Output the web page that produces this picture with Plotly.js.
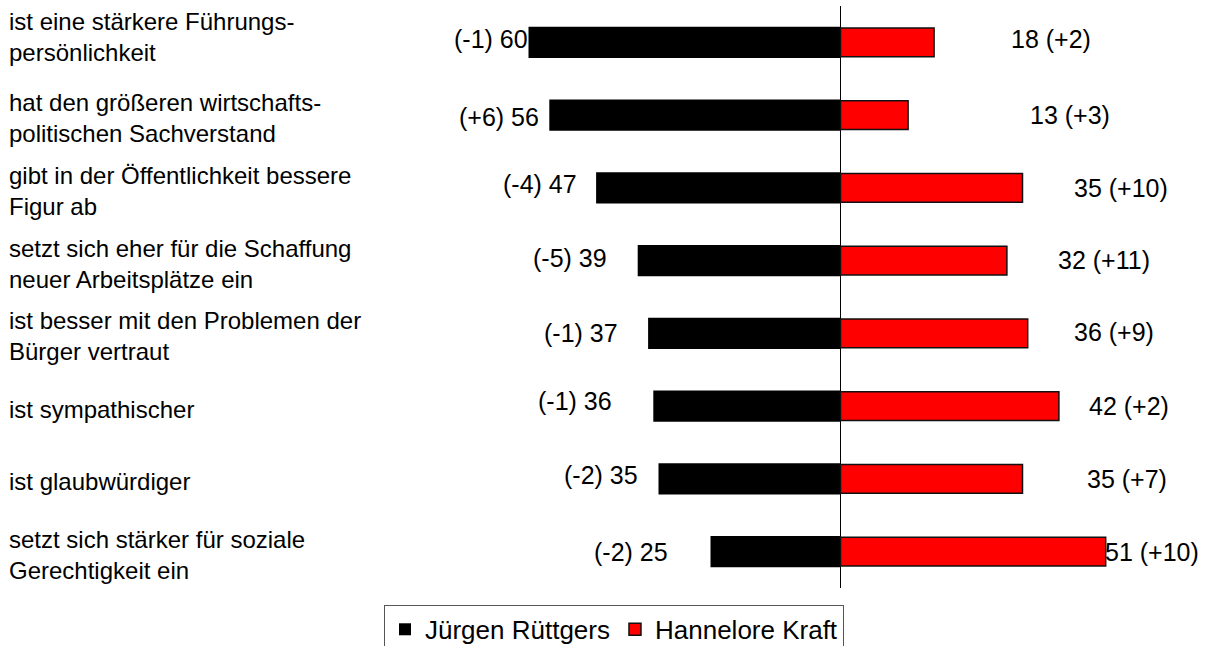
<!DOCTYPE html>
<html>
<head>
<meta charset="utf-8">
<script src="https://cdn.plot.ly/plotly-3.0.1.min.js"></script>
<style>
  html, body { margin: 0; padding: 0; background: #fff; }
  #chart { width: 1205px; height: 646px; }
</style>
</head>
<body>
<div id="chart"></div>
<script>
// statements, top to bottom
var categories = [
  "ist eine stärkere Führungs-<br>persönlichkeit",
  "hat den größeren wirtschafts-<br>politischen Sachverstand",
  "gibt in der Öffentlichkeit bessere<br>Figur ab",
  "setzt sich eher für die Schaffung<br>neuer Arbeitsplätze ein",
  "ist besser mit den Problemen der<br>Bürger vertraut",
  "ist sympathischer",
  "ist glaubwürdiger",
  "setzt sich stärker für soziale<br>Gerechtigkeit ein"
];
var ruettgers = [60, 56, 47, 39, 37, 36, 35, 25];
var ruettgersChange = [-1, 6, -4, -5, -1, -1, -2, -2];
var kraft = [18, 13, 35, 32, 36, 42, 35, 51];
var kraftChange = [2, 3, 10, 11, 9, 2, 7, 10];

// label placement tweaks (pixels), the original labels sit a bit unevenly
var leftGap = [0, 9, 18, 30, 29, 40, 20, 42];
var leftLift = [3, -2, 4, 3, 0, 5, 4, 0];
var rightGap = [76, 121, 50, 50, 45, 29, 63, -2];
var rightLift = [3, 0, 0, 1, 1, 0, 0, 0];

var font = "Liberation Sans, Arial, sans-serif";
function sign(v) { return (v > 0 ? "+" : "") + v; }

var black = {
  type: "bar", orientation: "h", name: "Jürgen Rüttgers",
  y: categories, x: ruettgers.map(v => -v),
  width: 0.43,
  marker: {color: "#000000", line: {width: 0}},
  hoverinfo: "skip"
};
var red = {
  type: "bar", orientation: "h", name: "Hannelore Kraft",
  y: categories, x: kraft,
  width: 0.395,
  marker: {color: "#ff0000", line: {color: "#111111", width: 1.5}},
  hoverinfo: "skip"
};

var annotations = [];
categories.forEach(function (c, i) {
  annotations.push({
    xref: "paper", x: 0, xshift: 8, xanchor: "left", align: "left",
    y: c, yref: "y", yanchor: "middle", yshift: i === 0 ? 5 : -3,
    text: c, showarrow: false, borderpad: 0,
    font: {family: font, size: 24, color: "#000"}
  });
  annotations.push({
    x: -ruettgers[i], y: c, xanchor: "right", xshift: -leftGap[i], yshift: leftLift[i],
    text: "(" + sign(ruettgersChange[i]) + ") " + ruettgers[i],
    showarrow: false, borderpad: 0,
    font: {family: font, size: 25, color: "#000"}
  });
  annotations.push({
    x: kraft[i], y: c, xanchor: "left", xshift: rightGap[i], yshift: rightLift[i],
    text: kraft[i] + " (" + sign(kraftChange[i]) + ")",
    showarrow: false, borderpad: 0,
    font: {family: font, size: 25, color: "#000"}
  });
});

var layout = {
  width: 1205, height: 646,
  margin: {l: 0, r: 0, t: 6, b: 58, autoexpand: false},
  paper_bgcolor: "#fff", plot_bgcolor: "#fff",
  barmode: "overlay",
  showlegend: true,
  xaxis: {
    range: [-840.5 / 5.2, (1205 - 840.5) / 5.2],
    showgrid: false, showticklabels: false, ticks: "",
    zeroline: true, zerolinecolor: "#000", zerolinewidth: 1,
    fixedrange: true
  },
  yaxis: {
    type: "category",
    range: [7.5, -0.5],
    showgrid: false, showticklabels: false, ticks: "", zeroline: false,
    fixedrange: true
  },
  legend: {
    orientation: "h",
    x: 384 / 1205, xanchor: "left",
    y: -0.029, yanchor: "top",
    bordercolor: "#555", borderwidth: 1,
    font: {family: font, size: 26, color: "#000"},
    traceorder: "normal"
  },
  annotations: annotations,
  font: {family: font}
};

Plotly.newPlot("chart", [black, red], layout, {displayModeBar: false, staticPlot: true});
</script>
</body>
</html>
